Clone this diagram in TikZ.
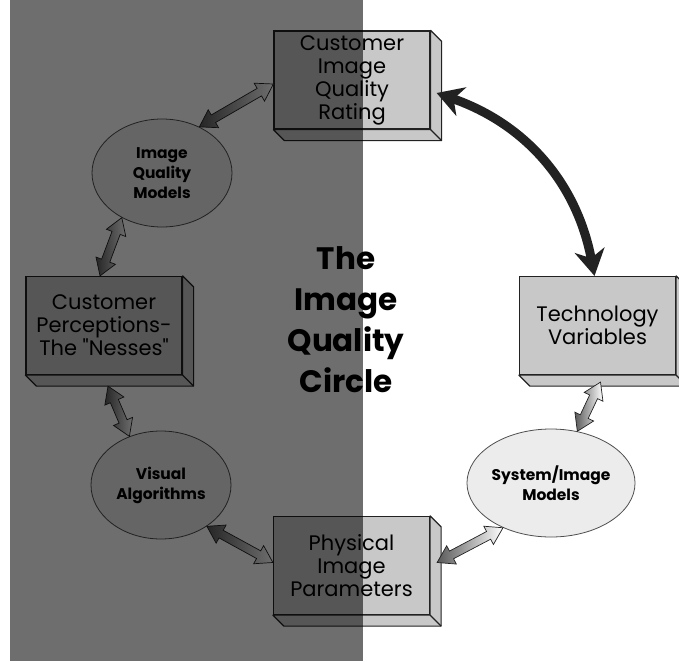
\documentclass[tikz,border=0pt]{standalone}
\usepackage{fontspec}
\setmainfont{Poppins}[Ligatures=TeXOff]
\usetikzlibrary{shapes.geometric,shapes.arrows,calc,arrows.meta}
\definecolor{boxgray}{HTML}{C8C8C8}
\definecolor{ovalgray}{HTML}{ECECEC}
\definecolor{lineclr}{HTML}{222222}
\tikzset{
  factor/.style={draw=lineclr,line width=1.2pt,fill=boxgray,minimum width=156pt,minimum height=98pt,
    inner sep=0pt,align=center,font=\fontsize{21}{23}\selectfont},
  model/.style={ellipse,draw=lineclr!80,line width=0.8pt,fill=ovalgray,minimum width=140pt,minimum height=108pt,
    inner sep=0pt,align=center,font=\bfseries\fontsize{15.5}{20}\selectfont},
  twoway/.style={double arrow,draw=lineclr,line width=0.7pt,inner xsep=0pt,inner ysep=4pt,
    double arrow head extend=6pt,double arrow tip angle=65},
  bigarrow/.style={draw=lineclr,line width=9pt,
    {Stealth[length=26pt,width=30pt,inset=8pt]}-{Stealth[length=26pt,width=30pt,inset=8pt]}}
}
\newcommand\linkpair[2]{%
  \path let \p1=(#1), \p2=(#2), \n1={veclen(\x2-\x1,\y2-\y1)}, \n2={atan2(\y2-\y1,\x2-\x1)} in
    node[twoway,left color=black!65,right color=white,minimum height=\n1,rotate=\n2] at ($(\p1)!0.5!(\p2)$) {};}

\begin{document}
\begin{tikzpicture}[x=1pt,y=-1pt]
\useasboundingbox (0,0) rectangle (679,661);

      \node[factor] (r1) at (352,80) {Customer\\Image\\Quality\\Rating};
      \node[factor] (r2) at (104,325.5) {Customer\\Perceptions-\\The "Nesses"};
      \node[factor] (r3) at (597.5,325.5) {Technology\\Variables};
      \node[factor] (r4) at (351.5,565.5) {Physical\\Image\\Parameters};
      \node[model] (iqm) at (162,173) {Image\\Quality\\Models};
      \node[model] (va) at (161,485) {Visual\\Algorithms};
      \node[model] (sim) at (551,483) {System/Image\\Models};
      \node[align=center,inner sep=0pt,font=\bfseries\fontsize{31}{41}\selectfont] (ttl) at (346,320)
        {The\\Image\\Quality\\Circle};

% depth of the boxes
\foreach \r in {r1,r2,r3,r4} {
  \filldraw[fill=boxgray,draw=lineclr,line width=1.2pt,line join=round]
    (\r.north east) -- ++(11,11) -- ($(\r.south east)+(11,11)$) -- ($(\r.south west)+(11,11)$)
    -- (\r.south west) -- (\r.south east) -- cycle;
  \draw[lineclr,line width=1.2pt] (\r.south east) -- ++(11,11);
}

      \coordinate (r1w) at ($(r1.west)+(0,4)$);
      \coordinate (r2n) at ($(r2.north)+(-4,0)$);
      \coordinate (r2s) at ($(r2.south)+(4,11)$);
      \coordinate (r4w) at ($(r4.west)+(0,-3)$);
      \coordinate (r4e) at ($(r4.east)+(7,-3)$);
      \coordinate (r3s) at ($(r3.south)+(3,7)$);
      \coordinate (r1e) at ($(r1.east)+(6,13)$);
      \coordinate (r3n) at ($(r3.north)+(-3,0)$);

\foreach \a/\b in {iqm.51/r1w,iqm.228/r2n,va.123/r2s,va.318/r4w,r4e/sim.223,sim.63/r3s}
  \linkpair{\a}{\b};
\draw[bigarrow] (r1e) to[bend left=30] (r3n);

% shaded half
\fill[black,opacity=0.57] (10,0) rectangle (363,661);
\end{tikzpicture}
\end{document}
